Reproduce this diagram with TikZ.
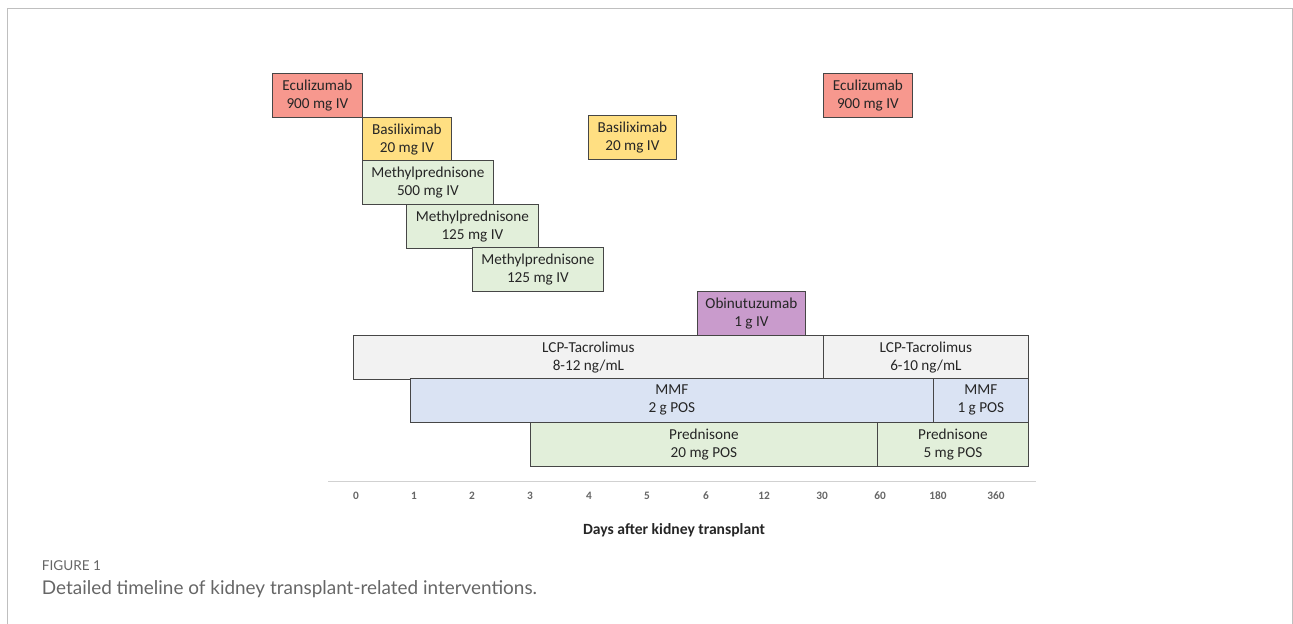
\documentclass[tikz,border=0pt]{standalone}
\usepackage{fontspec}
\setmainfont{Carlito}
\newfontfamily\capfont{Lato}
\usepackage{tikz}

\definecolor{ecured}{RGB}{247,152,142}
\definecolor{basyellow}{RGB}{255,223,130}
\definecolor{pgreen}{RGB}{226,239,218}
\definecolor{obipurple}{RGB}{201,155,204}
\definecolor{tacgray}{RGB}{242,242,242}
\definecolor{mmfblue}{RGB}{218,227,243}
\definecolor{boxline}{RGB}{70,70,70}

\begin{document}
\begin{tikzpicture}[x=0.75pt,y=-0.75pt,line width=0.6pt,
  dose/.style={draw=boxline,anchor=north west,inner sep=0pt,minimum height=32.7pt,
    align=center,text=black!85,font=\fontsize{11.4}{13.5}\selectfont},
  daytick/.style={text=black!60,font=\bfseries\fontsize{8.5}{10}\selectfont}]
\useasboundingbox (0,0) rectangle (1293,624);
\draw[black!25] (7,624) -- (7,8) -- (1292,8) -- (1292,624);

% induction doses
\node[dose,fill=ecured,minimum width=67.5pt] (ecu1) at (272,73) {Eculizumab\\900 mg IV};
\node[dose,fill=basyellow,minimum width=66.75pt] (bas1) at (362,117) {Basiliximab\\20 mg IV};
\node[dose,fill=pgreen,minimum width=98.25pt] (mp1) at (362,160) {Methylprednisone\\500 mg IV};
\node[dose,fill=pgreen,minimum width=99pt] (mp2) at (406,204) {Methylprednisone\\125 mg IV};
\node[dose,fill=pgreen,minimum width=98.25pt] (mp3) at (472,247) {Methylprednisone\\125 mg IV};
\node[dose,fill=basyellow,minimum width=66pt] (bas2) at (588,115) {Basiliximab\\20 mg IV};
\node[dose,fill=ecured,minimum width=66.75pt] (ecu2) at (823,73) {Eculizumab\\900 mg IV};
\node[dose,fill=obipurple,minimum width=81pt] (obi) at (697,291) {Obinutuzumab\\1 g IV};

% maintenance
\node[dose,fill=tacgray,minimum width=352.5pt] (tac1) at (353,335) {LCP-Tacrolimus\\8-12 ng/mL};
\node[dose,fill=tacgray,minimum width=153.75pt] (tac2) at (823,335) {LCP-Tacrolimus\\6-10 ng/mL};
\node[dose,fill=mmfblue,minimum width=392.25pt] (mmf1) at (410,378) {MMF\\2 g POS};
\node[dose,fill=mmfblue,minimum width=71.25pt] (mmf2) at (933,378) {MMF\\1 g POS};
\node[dose,fill=pgreen,minimum width=260.25pt] (pred1) at (530,422) {Prednisone\\20 mg POS};
\node[dose,fill=pgreen,minimum width=113.25pt] (pred2) at (877,422) {Prednisone\\5 mg POS};

% time axis
\coordinate (axl) at (328,481);
\coordinate (axr) at (1036,481);
\draw[black!18] (axl) -- (axr);
\foreach \x/\d in {356/0,414/1,472/2,530/3,589/4,647/5,706/6,764/12,822/30,880/60,938/180,996/360}
  \node[daytick] (t\d) at (\x,496) {\d};
\node[text=black!85,font=\bfseries\fontsize{11.7}{14}\selectfont] (xlab) at (674,530) {Days after kidney transplant};

\node[anchor=west,text=black!60,font=\capfont\fontsize{10.2}{12}\selectfont] (fig) at (37,566) {FIGURE 1};
\node[anchor=west,text=black!60,font=\capfont\fontsize{14.2}{16}\selectfont] (cap) at (37,589) {Detailed timeline of kidney transplant-related interventions.};
\end{tikzpicture}
\end{document}
